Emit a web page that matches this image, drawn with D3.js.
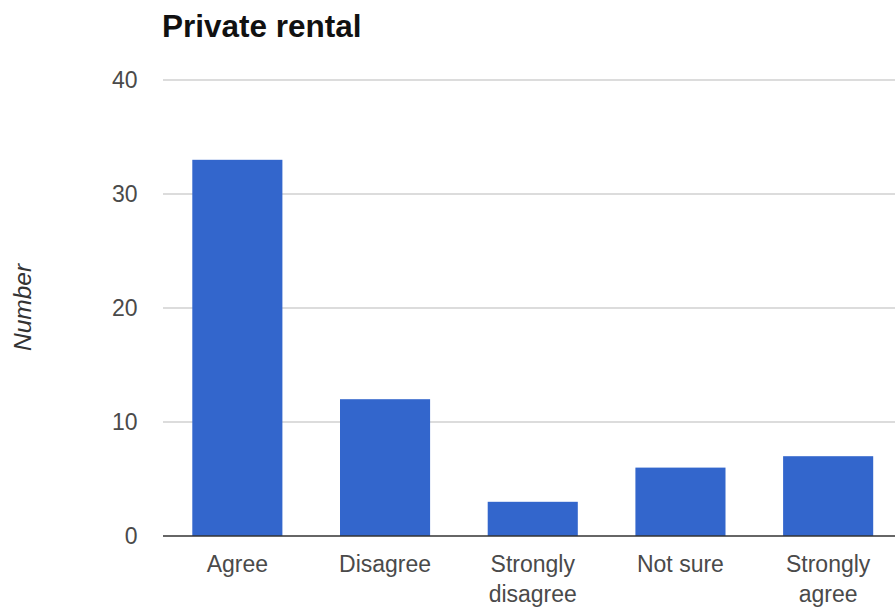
<!DOCTYPE html>
<html>
<head>
<meta charset="utf-8">
<script src="https://cdn.jsdelivr.net/npm/d3@7"></script>
<style>
  html, body { margin: 0; padding: 0; background: #fff; }
  svg { display: block; font-family: Arial, "Liberation Sans", sans-serif; }
</style>
</head>
<body>
<svg id="chart" width="895" height="611"></svg>
<script>
const title = "Private rental";
const yAxisTitle = "Number";
const categories = ["Agree", "Disagree", "Strongly disagree", "Not sure", "Strongly agree"];
const values = [33, 12, 3, 6, 7];
const yTicks = [0, 10, 20, 30, 40];

const W = 895, H = 611;
const plotLeft = 163.5, plotRight = 902, plotTop = 80, plotBottom = 536;
const svg = d3.select("#chart");

const x = d3.scaleBand().domain(categories).range([plotLeft, plotRight])
  .paddingInner(0.39).paddingOuter(0.195);
const y = d3.scaleLinear().domain([0, 40]).range([plotBottom, plotTop]);

// gridlines
svg.append("g").selectAll("line").data(yTicks.filter(d => d !== 0)).join("line")
  .attr("x1", plotLeft - 0.5).attr("x2", W)
  .attr("y1", d => y(d)).attr("y2", d => y(d))
  .attr("stroke", "#d0d0d0").attr("stroke-width", 1.5);

// y tick labels via axis
const yAxis = d3.axisLeft(y).tickValues(yTicks).tickSize(0).tickPadding(26);
const ya = svg.append("g").attr("transform", `translate(${plotLeft},0)`).call(yAxis);
ya.select(".domain").remove();
ya.selectAll("text").attr("font-size", 23).attr("fill", "#4a4a4a")
  .attr("font-family", "Arial, 'Liberation Sans', sans-serif");

// bars
svg.append("g").selectAll("rect").data(categories).join("rect")
  .attr("x", d => x(d)).attr("width", x.bandwidth())
  .attr("y", (d, i) => y(values[i]))
  .attr("height", (d, i) => y(0) - y(values[i]))
  .attr("fill", "#3366cc");

// baseline
svg.append("line").attr("x1", plotLeft - 0.5).attr("x2", W)
  .attr("y1", y(0)).attr("y2", y(0))
  .attr("stroke", "#333").attr("stroke-width", 1.7);

// x labels (wrapped)
const xl = svg.append("g");
categories.forEach(c => {
  const t = xl.append("text").attr("x", x(c) + x.bandwidth() / 2).attr("y", 571.7)
    .attr("text-anchor", "middle").attr("font-size", 23).attr("fill", "#4a4a4a");
  const words = c.split(" ");
  let line = [], lines = [];
  const probe = t.append("tspan");
  words.forEach(w => {
    const test = line.concat(w).join(" ");
    probe.text(test);
    if (probe.node().getComputedTextLength() > 120 && line.length) {
      lines.push(line.join(" ")); line = [w];
    } else line.push(w);
  });
  lines.push(line.join(" "));
  probe.remove();
  lines.forEach((l, i) => t.append("tspan").attr("x", x(c) + x.bandwidth() / 2)
    .attr("dy", i === 0 ? 0 : 30).text(l));
});

// title
svg.append("text").attr("x", 162).attr("y", 37).attr("font-size", 31.5)
  .attr("font-weight", "bold").attr("fill", "#111").text(title);

// y axis title
svg.append("text").attr("transform", `translate(31,${(plotTop + plotBottom) / 2 - 0.5}) rotate(-90)`)
  .attr("text-anchor", "middle").attr("font-size", 24.5).attr("font-style", "italic")
  .attr("fill", "#333").text(yAxisTitle);
</script>
</body>
</html>
